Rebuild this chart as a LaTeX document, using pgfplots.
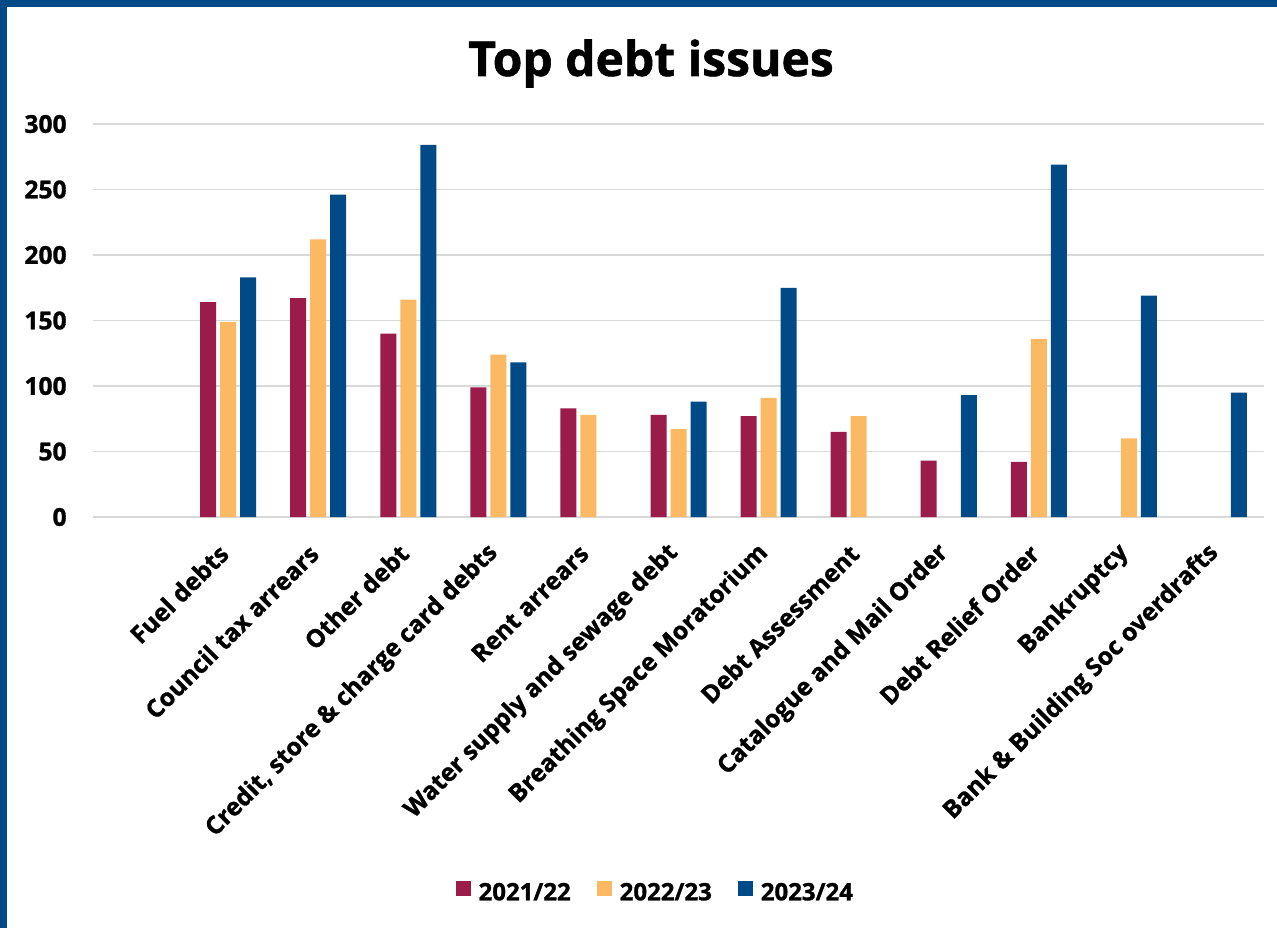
\documentclass[border=0pt]{standalone}
\usepackage{fontspec}
\setmainfont{Open Sans}
\newfontfamily\xb{Open Sans}[BoldFeatures={FakeBold=1.2}]
\usepackage{pgfplots}
\pgfplotsset{compat=1.18}
\definecolor{cRed}{HTML}{9B1B4B}
\definecolor{cOrg}{HTML}{FCB964}
\definecolor{cBlue}{HTML}{004A87}
\definecolor{cGrid}{HTML}{D9D9D9}
\begin{document}
\begin{tikzpicture}
\useasboundingbox (0,0) rectangle (638.5pt,464pt);
\fill[white] (0,0) rectangle (638.5pt,464pt);
\fill[cBlue] (0,460.5pt) rectangle (638.5pt,464pt);
\fill[cBlue] (0,0) rectangle (3.5pt,464pt);
\node[anchor=base,font=\fontsize{24}{28}\selectfont\xb\bfseries,inner sep=0pt] at (325.5pt,426pt) {Top debt issues};
\begin{axis}[
  at={(46.5pt,205.5pt)}, anchor=south west,
  scale only axis, width=585.5pt, height=196.5pt,
  ymin=0, ymax=300, ytick={0,50,...,300},
  xmin=-1.5, xmax=11.5,
  xtick={0,...,11},
  xticklabels={Fuel debts,Council tax arrears,Other debt,{Credit, store \& charge card debts},Rent arrears,Water supply and sewage debt,Breathing Space Moratorium,Debt Assessment,Catalogue and Mail Order,Debt Relief Order,Bankruptcy,Bank \& Building Soc overdrafts},
  ybar=2pt, bar width=8pt,
  axis line style={draw=none},
  major tick length=0pt,
  ymajorgrids, grid style={cGrid, line width=0.9pt},
  tick label style={font=\fontsize{12.3}{14}\selectfont\xb\bfseries},
  /pgf/number format/assume math mode=true,
  yticklabel style={inner sep=0pt, xshift=-13pt},
  xticklabel style={inner sep=0pt, xshift=-2pt, yshift=-16pt, rotate=45, anchor=east},
  legend style={at={(0.481,-0.957)}, anchor=center, draw=none, fill=none,
    legend columns=3, font=\fontsize{12}{14}\selectfont\xb\bfseries,
    /tikz/every odd column/.append style={column sep=2pt},
    /tikz/every even column/.append style={column sep=11pt}},
  legend image code/.code={\fill[#1] (0pt,-1.5pt) rectangle (7.5pt,6pt);},
]
\addplot[fill=cRed, draw=none] coordinates {(0,164) (1,167) (2,140) (3,99) (4,83) (5,78) (6,77) (7,65) (8,43) (9,42)};
\addplot[fill=cOrg, draw=none] coordinates {(0,149) (1,212) (2,166) (3,124) (4,78) (5,67) (6,91) (7,77) (9,136) (10,60)};
\addplot[fill=cBlue, draw=none] coordinates {(0,183) (1,246) (2,284) (3,118) (5,88) (6,175) (8,93) (9,269) (10,169) (11,95)};
\legend{2021/22,2022/23,2023/24}
\end{axis}
\end{tikzpicture}
\end{document}
